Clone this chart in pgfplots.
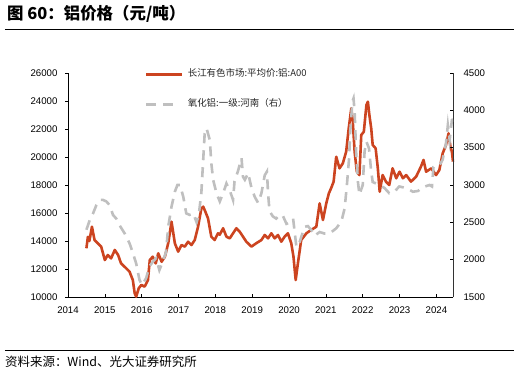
\documentclass[border=0pt]{standalone}
\usepackage{pgfplots}
\pgfplotsset{compat=1.18}
\usepackage{fontspec}
\setmainfont{Liberation Sans}
\newfontfamily\cjk{Noto Sans CJK SC}
\definecolor{alred}{RGB}{204,68,32}
\definecolor{algray}{RGB}{191,191,191}
\pgfplotsset{
  redleg/.style={legend image code/.code={\draw[##1] (0bp,0bp) -- (36bp,0bp);}},
  grayleg/.style={legend image code/.code={\draw[##1] (0bp,0bp) -- (28bp,0bp);}},
}
\pgfplotstableread{
x y
2014.50 13480
2014.54 14300
2014.58 14000
2014.65 15020
2014.72 14070
2014.81 13830
2014.90 13600
2015.00 12640
2015.08 13000
2015.17 12760
2015.27 13360
2015.36 13000
2015.44 12400
2015.58 12050
2015.67 11810
2015.76 11210
2015.81 10260
2015.85 10020
2015.92 10620
2015.99 10860
2016.08 10740
2016.17 11210
2016.22 12640
2016.30 12880
2016.38 12400
2016.45 13120
2016.54 12520
2016.63 12880
2016.72 13840
2016.81 15380
2016.90 13840
2016.99 13240
2017.08 13710
2017.17 13600
2017.26 13950
2017.35 13710
2017.44 14070
2017.53 15020
2017.62 16330
2017.67 16450
2017.71 16210
2017.80 15620
2017.89 14310
2017.98 14070
2018.07 14550
2018.12 14450
2018.21 14910
2018.30 14310
2018.39 14190
2018.48 14550
2018.57 14910
2018.66 14670
2018.75 14310
2018.84 13950
2018.98 13600
2019.11 13840
2019.25 14070
2019.34 14430
2019.43 14190
2019.52 14550
2019.61 14190
2019.70 14430
2019.79 13950
2019.88 14310
2019.97 14550
2020.06 13840
2020.12 12880
2020.18 11210
2020.24 12400
2020.33 14070
2020.47 14550
2020.60 14790
2020.74 15020
2020.83 16690
2020.92 15500
2021.01 16690
2021.08 17400
2021.14 17760
2021.21 18240
2021.28 20020
2021.37 19190
2021.46 19550
2021.55 20380
2021.62 22050
2021.69 23480
2021.73 22520
2021.78 20380
2021.84 18950
2021.91 18710
2021.96 21570
2022.03 21810
2022.10 23710
2022.14 23950
2022.18 23000
2022.23 22050
2022.27 20860
2022.35 20620
2022.41 19190
2022.46 17520
2022.54 18710
2022.63 18240
2022.72 18000
2022.81 19190
2022.91 18480
2023.00 18950
2023.09 18480
2023.18 18710
2023.31 18240
2023.45 18600
2023.58 19310
2023.65 19790
2023.72 18950
2023.86 19190
2023.99 18710
2024.08 19070
2024.17 20260
2024.26 20860
2024.33 21690
2024.38 20740
2024.42 20380
2024.45 19670
}\redtable
\pgfplotstableread{
x y
2014.50 2400
2014.59 2530
2014.68 2620
2014.77 2730
2014.86 2800
2014.95 2800
2015.04 2780
2015.13 2730
2015.22 2600
2015.31 2550
2015.40 2460
2015.54 2350
2015.67 2220
2015.76 2090
2015.85 1950
2015.94 1730
2016.01 1660
2016.12 1750
2016.21 1910
2016.30 1970
2016.39 2020
2016.48 1860
2016.57 1970
2016.66 2100
2016.72 2440
2016.81 2710
2016.90 2910
2016.97 3000
2017.04 3000
2017.13 2840
2017.21 2620
2017.30 2600
2017.40 2620
2017.49 2500
2017.55 2600
2017.62 2900
2017.67 3340
2017.71 3690
2017.76 3760
2017.85 3600
2017.89 3290
2017.94 3070
2018.03 2890
2018.12 2780
2018.21 2890
2018.30 3020
2018.39 2930
2018.48 2800
2018.52 3050
2018.61 3180
2018.71 3360
2018.75 3110
2018.80 3070
2018.89 3160
2018.98 2960
2019.07 2840
2019.16 2760
2019.25 2890
2019.34 3130
2019.40 3180
2019.43 2890
2019.47 2650
2019.56 2580
2019.65 2550
2019.75 2600
2019.83 2590
2019.93 2480
2020.02 2500
2020.11 2550
2020.20 2170
2020.29 2240
2020.42 2440
2020.51 2450
2020.60 2400
2020.69 2320
2020.83 2370
2020.96 2350
2021.10 2350
2021.28 2420
2021.42 2510
2021.51 2690
2021.57 3000
2021.63 3360
2021.66 3710
2021.72 4120
2021.75 4160
2021.78 3980
2021.82 3450
2021.87 3040
2021.91 2870
2022.00 3000
2022.05 3450
2022.10 3580
2022.17 3490
2022.23 3180
2022.27 3040
2022.36 3020
2022.46 3000
2022.59 2960
2022.72 2890
2022.86 2910
2022.99 2980
2023.18 2960
2023.36 2910
2023.50 2920
2023.63 2970
2023.81 3000
2023.88 2980
2023.92 3240
2024.08 3260
2024.17 3340
2024.26 3560
2024.31 3800
2024.36 3600
2024.42 3870
2024.45 3880
}\graytable
\begin{document}
\begin{tikzpicture}
\useasboundingbox (-68bp,-73bp) rectangle (451bp,297bp);
\begin{axis}[
  at={(0,0)}, anchor=south west,
  scale only axis, width=385bp, height=224bp,
  xmin=2014, xmax=2024.45, ymin=10000, ymax=26000,
  axis x line*=bottom, axis y line*=left,
  axis line style={-, black, line width=0.8bp},
  xtick={2014,...,2024}, ytick={10000,12000,...,26000},
  scaled y ticks=false, scaled x ticks=false,
  xtick align=inside, ytick align=outside,
  major tick length=3bp,
  tick style={black, line width=0.6bp},
  /pgf/number format/1000 sep={},
  /pgf/number format/assume math mode=true,
  tick label style={font=\fontsize{9.7}{10}\selectfont, black},
  xticklabel style={yshift=-6bp},
  yticklabel style={xshift=-4bp},
  legend cell align=left,
  legend style={draw=none, fill=none, at={(0.2,1.02)}, anchor=north west,
    inner sep=0pt, font=\cjk\fontsize{9.5}{10}\selectfont, text=black!85,
    row sep=19bp, nodes={inner sep=1bp, text height=7bp, text depth=2bp},
    /tikz/every odd column/.append style={column sep=3bp}},
  clip=false,
]
\addplot[alred, line width=2.6bp, line join=round, redleg]
  table[x=x,y=y] {\redtable};
\addlegendentry{长江有色市场:平均价:铝:A00}
\addlegendimage{algray, line width=2.6bp, dash pattern=on 10bp off 7bp, grayleg}
\addlegendentry{氧化铝:一级:河南（右）}
\end{axis}
\begin{axis}[
  at={(0,0)}, anchor=south west,
  scale only axis, width=385bp, height=224bp,
  xmin=2014, xmax=2024.45, ymin=1500, ymax=4500,
  axis x line=none, axis y line*=right,
  axis line style={-, black!80, line width=0.8bp},
  ytick={1500,2000,...,4500},
  scaled y ticks=false,
  ytick align=inside,
  major tick length=3bp,
  tick style={black, line width=0.6bp},
  /pgf/number format/1000 sep={},
  /pgf/number format/assume math mode=true,
  tick label style={font=\fontsize{9.7}{10}\selectfont, black},
  yticklabel style={xshift=7bp},
]
\addplot[algray, line width=2.6bp, dash pattern=on 10bp off 7bp]
  table[x=x,y=y] {\graytable};
\end{axis}
\node[anchor=west, inner sep=0pt, font=\cjk\bfseries\fontsize{16.5}{17}\selectfont]
  at (-61bp,283bp) {图 60：铝价格（元/吨）};
\draw[line width=0.8bp] (-63bp,268bp) -- (446bp,268bp);
\draw[line width=0.8bp] (-63bp,-53bp) -- (446bp,-53bp);
\node[anchor=west, inner sep=0pt, font=\cjk\fontsize{12.5}{13}\selectfont]
  at (-63bp,-65bp) {资料来源：Wind、光大证券研究所};
\end{tikzpicture}
\end{document}
